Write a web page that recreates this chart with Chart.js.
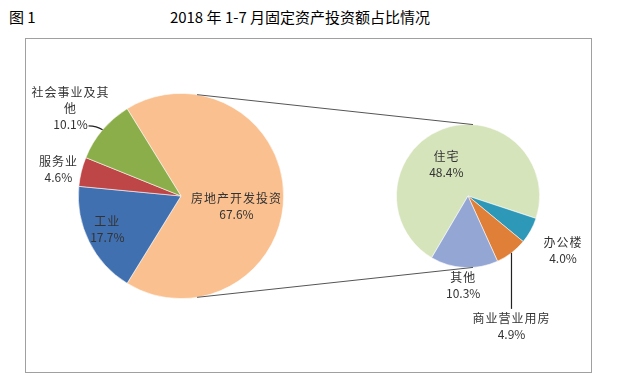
<!DOCTYPE html>
<html>
<head>
<meta charset="utf-8">
<script src="https://cdn.jsdelivr.net/npm/chart.js@4.4.1/dist/chart.umd.min.js"></script>
<style>
  html,body{margin:0;padding:0;background:#fff;}
  #wrap{position:relative;width:617px;height:381px;overflow:hidden;font-family:"Noto Sans CJK SC","Noto Sans",sans-serif;}
  #wrap canvas{position:absolute;left:0;top:0;}
  .fig{position:absolute;left:9px;top:6px;font-size:15px;color:#000;}
  .ttl{position:absolute;left:0;width:600px;text-align:center;top:6px;font-size:15px;color:#000;}
  .box{position:absolute;left:25px;top:38px;width:565px;height:333px;border:1px solid #a0a0a0;}
</style>
</head>
<body>
<div id="wrap">
  <div class="fig">图 1</div>
  <div class="ttl">2018 年 1-7 月固定资产投资额占比情况</div>
  <div class="box"></div>
  <canvas id="mainPie" width="617" height="381"></canvas>
  <canvas id="subPie" width="617" height="381"></canvas>
</div>
<script>
/* ── DATA ── */
const mainLabels = ['房地产开发投资','工业','服务业','社会事业及其他'];
const mainValues = [67.6, 17.7, 4.6, 10.1];
const mainColors = ['#FAC090','#4170B0','#BF4646','#8BAD4A'];

const subLabels = ['住宅','办公楼','商业营业用房','其他'];
const subValues = [48.4, 4.0, 4.9, 10.3];
const subColors = ['#D6E4BC','#2E98B8','#E07F38','#93A6D4'];

/* ── label placement (radius factor along slice middle, nudge, wrap, leader) ── */
const mainLabelCfg = [
  {f:0.54, dx:0,  dy:10},
  {f:0.78, dx:-2, dy:-2},
  {f:1.22, dx:-1, dy:3},
  {f:1.37, dx:-3, dy:3, wrap:6, leader:'side'}
];
const subLabelCfg = [
  {f:0.50, dx:-9, dy:2},
  {f:1.50, dx:1,  dy:2.5},
  {f:1.00, dx:0,  dy:74, leader:'down'},
  {f:1.25, dx:0,  dy:0}
];

const TXT = '#333';
const LH = 16;

function wrapText(s, n){
  if(!n || s.length<=n) return [s];
  const out=[]; for(let i=0;i<s.length;i+=n) out.push(s.slice(i,i+n)); return out;
}

function labelPlugin(labels, cfgs){
  return {
    id:'sliceLabels',
    afterDraw(chart){
      const ctx = chart.ctx;
      const meta = chart.getDatasetMeta(0);
      const vals = chart.data.datasets[0].data;
      ctx.save();
      ctx.textAlign='center'; ctx.textBaseline='middle';
      meta.data.forEach((arc,i)=>{
        const c = cfgs[i];
        const mid = (arc.startAngle+arc.endAngle)/2;
        const R = arc.outerRadius;
        const cx = arc.x + Math.cos(mid)*R*c.f + c.dx;
        const cy = arc.y + Math.sin(mid)*R*c.f + c.dy;
        const lines = wrapText(labels[i], c.wrap).concat([vals[i].toFixed(1)+'%']);
        const top = cy - (lines.length-1)*LH/2;
        // leader lines
        const ex = arc.x + Math.cos(mid)*R, ey = arc.y + Math.sin(mid)*R;
        ctx.strokeStyle='#222'; ctx.lineWidth=1.2;
        if(c.leader==='down'){
          ctx.beginPath(); ctx.moveTo(ex,ey); ctx.lineTo(ex, top-10); ctx.stroke();
        } else if(c.leader==='side'){
          ctx.beginPath(); ctx.moveTo(ex,ey); ctx.quadraticCurveTo(ex-6,ey-4, ex-14,ey-4); ctx.stroke();
        }
        ctx.fillStyle=TXT;
        lines.forEach((ln,k)=>{
          const isPct = k===lines.length-1;
          ctx.font = '12px "Noto Sans CJK SC","Noto Sans",sans-serif';
          ctx.letterSpacing = isPct ? '0px' : '1px';
          ctx.fillText(ln, cx, top+k*LH);
        });
      });
      ctx.restore();
    }
  };
}

const baseOpts = (pad, rot) => ({
  responsive:false,
  animation:false,
  rotation:rot,
  layout:{padding:pad},
  plugins:{legend:{display:false}, tooltip:{enabled:false}}
});

const mainChart = new Chart(document.getElementById('mainPie').getContext('2d'),{
  type:'pie',
  data:{labels:mainLabels, datasets:[{data:mainValues, backgroundColor:mainColors, borderColor:'rgba(255,255,255,0.7)', borderWidth:0.8}]},
  options: baseOpts({left:78,right:333,top:93,bottom:82}, 90 - mainValues[0]*3.6/2),
  plugins:[labelPlugin(mainLabels, mainLabelCfg)]
});

/* connector lines between the two pies */
const connectorPlugin = {
  id:'connectors',
  afterDraw(chart){
    const a = mainChart.getDatasetMeta(0).data[0];
    const b = chart.getDatasetMeta(0).data[0];
    const ang = d => d*Math.PI/180;
    const ctx = chart.ctx;
    ctx.save();
    ctx.strokeStyle='#555'; ctx.lineWidth=1;
    [[-81,-86],[81,86]].forEach(([p,q])=>{
      ctx.beginPath();
      ctx.moveTo(a.x+Math.cos(ang(p))*a.outerRadius, a.y+Math.sin(ang(p))*a.outerRadius);
      ctx.lineTo(b.x+Math.cos(ang(q))*b.outerRadius, b.y+Math.sin(ang(q))*b.outerRadius);
      ctx.stroke();
    });
    ctx.restore();
  }
};

const subChart = new Chart(document.getElementById('subPie').getContext('2d'),{
  type:'pie',
  data:{labels:subLabels, datasets:[{data:subValues, backgroundColor:subColors, borderColor:'rgba(255,255,255,0.7)', borderWidth:0.8}]},
  options: baseOpts({left:396,right:77,top:124,bottom:113}, 210.5),
  plugins:[connectorPlugin, labelPlugin(subLabels, subLabelCfg)]
});
</script>
</body>
</html>
